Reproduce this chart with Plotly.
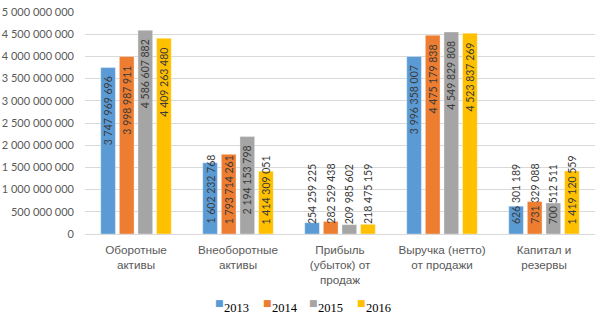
import plotly.graph_objects as go

categories = ["Оборотные<br>активы", "Внеоборотные<br>активы", "Прибыль<br>(убыток) от<br>продаж",
              "Выручка (нетто)<br>от продажи", "Капитал и<br>резервы"]
years = ["2013", "2014", "2015", "2016"]
colors = ["#5B9BD5", "#ED7D31", "#A5A5A5", "#FFC000"]
v2013 = [3747969696, 1602232768, 254259225, 3996358007, 626301189]
v2014 = [3998987911, 1793714261, 282529438, 4475179838, 731329088]
v2015 = [4586607882, 2194153798, 209985602, 4549829808, 700512511]
v2016 = [4409263480, 1414309051, 218475159, 4523837269, 1419120559]
series = [v2013, v2014, v2015, v2016]
ytick_vals = [i * 500000000 for i in range(11)]

W, H = 612, 332
ML, MR, MT, MB = 85, 17, 12, 98
plot_w = W - ML - MR
plot_h = H - MT - MB
YMAX = 5000000000
BARGAP = 0.27
BARGROUPGAP = 0.21

def fmt(v):
    return f"{v:,}".replace(",", " ")

fig = go.Figure()
for name, vals, col in zip(years, series, colors):
    fig.add_trace(go.Bar(x=list(range(len(categories))), y=vals, name=name,
                         marker=dict(color=col, line=dict(width=0.6, color="rgba(255,255,255,0.6)")),
                         showlegend=False, hoverinfo="y"))

# data labels (rotated, Excel-like "inside end" clamped to the base)
LFS = 10.5
k = plot_h / YMAX
annotations = []
slot = (1 - BARGAP) / 4
for si, vals in enumerate(series):
    for ci, v in enumerate(vals):
        txt = fmt(v)
        nd = sum(c.isdigit() for c in txt)
        ns = txt.count(" ")
        L = (nd * 0.58 + ns * 0.193) * LFS
        x = ci + (si - 1.5) * slot
        if v * k - 8 - L >= 9:
            annotations.append(dict(x=x, y=v, xref="x", yref="y", text=txt, textangle=-90,
                                    showarrow=False, yanchor="top", yshift=-7,
                                    font=dict(family="Lato", size=LFS, color="#3A3A3A")))
        else:
            annotations.append(dict(x=x, y=0, xref="x", yref="y", text=txt, textangle=-90,
                                    showarrow=False, yanchor="bottom", yshift=8,
                                    font=dict(family="Lato", size=LFS, color="#3A3A3A")))

# custom legend
leg_sq_px = [213.7, 261.7, 307.7, 355.5]
for name, col, px in zip(years, colors, leg_sq_px):
    annotations.append(dict(x=(px - ML) / plot_w, y=(H - MB - 303) / plot_h, xref="paper", yref="paper",
                            text="■", showarrow=False, xanchor="left", yanchor="middle",
                            font=dict(family="DejaVu Sans", size=9, color=col), borderpad=0))
    annotations.append(dict(x=(px + 9 - ML) / plot_w, y=(H - MB - 307.5) / plot_h, xref="paper", yref="paper",
                            text=name, showarrow=False, xanchor="left", yanchor="middle",
                            font=dict(family="Liberation Serif", size=12.5, color="#000000"), borderpad=0))

fig.update_layout(
    width=W, height=H,
    margin=dict(l=ML, r=MR, t=MT, b=MB, autoexpand=False),
    paper_bgcolor="white", plot_bgcolor="white",
    barmode="group", bargap=BARGAP, bargroupgap=BARGROUPGAP,
    separators=", ",
    annotations=annotations,
    showlegend=False,
    xaxis=dict(tickmode="array", tickvals=list(range(len(categories))), ticktext=categories,
               range=[-0.5, len(categories) - 0.5], showgrid=False, zeroline=False, showline=False,
               ticks="", automargin=False, ticklabelstandoff=7,
               tickfont=dict(family="Liberation Sans", size=11.7, color="#595959")),
    yaxis=dict(range=[0, YMAX], tickvals=ytick_vals, ticktext=[fmt(v) for v in ytick_vals],
               showgrid=True, gridcolor="#D9D9D9", gridwidth=1,
               zeroline=True, zerolinecolor="#D9D9D9", zerolinewidth=1,
               showline=False, ticks="", automargin=False, ticklabelstandoff=10,
               tickfont=dict(family="Lato", size=11, color="#595959")),
)

fig.write_html("out.html")
